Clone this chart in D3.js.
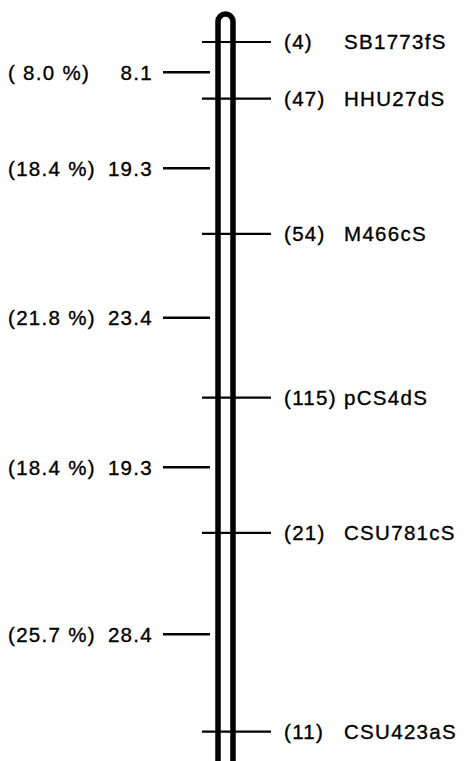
<!DOCTYPE html>
<html><head><meta charset="utf-8">
<script src="https://cdn.jsdelivr.net/npm/d3@7"></script>
<style>
html,body{margin:0;padding:0;background:#fff;}
svg{display:block;}
text{font-family:"Liberation Sans",Arial,Helvetica,sans-serif;font-size:20.5px;fill:#000;stroke:#000;stroke-width:0.35px;letter-spacing:1.3px;white-space:pre;}
</style></head><body>
<script>
const markers = ["SB1773fS","HHU27dS","M466cS","pCS4dS","CSU781cS","CSU423aS"];
const counts = [4,47,54,115,21,11];
const distances = [8.1,19.3,23.4,19.3,28.4];
const percents = [8.0,18.4,21.8,18.4,25.7];

(function(){
const W = 465, H = 761;
const svg = d3.select("body").append("svg").attr("width",W).attr("height",H);

const pos = [0];
distances.forEach(d => pos.push(+(pos[pos.length-1] + d).toFixed(1)));
const y = d3.scaleLinear().domain([0, d3.sum(distances)]).range([42, 731.7]);

// chromosome
const cx = 225.5, cw = 15, yTop = 14, yBot = 790, r = cw/2;
svg.append("path")
  .attr("d", `M${cx-r},${yBot} L${cx-r},${yTop+r} A${r},${r} 0 0 1 ${cx+r},${yTop+r} L${cx+r},${yBot}`)
  .attr("fill","none").attr("stroke","#000").attr("stroke-width",5.5);

// marker lines
svg.selectAll("line.m").data(pos).join("line").attr("class","m")
  .attr("x1",202).attr("x2",271)
  .attr("y1",d=>y(d)).attr("y2",d=>y(d))
  .attr("stroke","#000").attr("stroke-width",2.2);

// right labels
svg.selectAll("text.c").data(counts).join("text").attr("class","c")
  .attr("x",284).attr("y",(d,i)=>y(pos[i]))
  .attr("dy","0.36em")
  .text(d=>`(${d})`);
svg.selectAll("text.n").data(markers).join("text").attr("class","n")
  .attr("x",344).attr("y",(d,i)=>y(pos[i]))
  .attr("dy","0.36em")
  .text(d=>d);

// interval ticks (midpoints)
const mids = distances.map((d,i)=> (pos[i]+pos[i+1])/2);
svg.selectAll("line.t").data(mids).join("line").attr("class","t")
  .attr("x1",163).attr("x2",210)
  .attr("y1",d=>y(d)+2).attr("y2",d=>y(d)+2)
  .attr("stroke","#000").attr("stroke-width",2.5);

svg.selectAll("text.p").data(percents).join("text").attr("class","p")
  .attr("x",8).attr("y",(d,i)=>y(mids[i])+2)
  .attr("dy","0.36em")
  .text(d=>`(${d<10?" ":""}${d.toFixed(1)} %)`);
svg.selectAll("text.d").data(distances).join("text").attr("class","d")
  .attr("x",153).attr("y",(d,i)=>y(mids[i])+2)
  .attr("dy","0.36em").attr("text-anchor","end")
  .text(d=>d.toFixed(1));
})();
</script>
</body></html>
